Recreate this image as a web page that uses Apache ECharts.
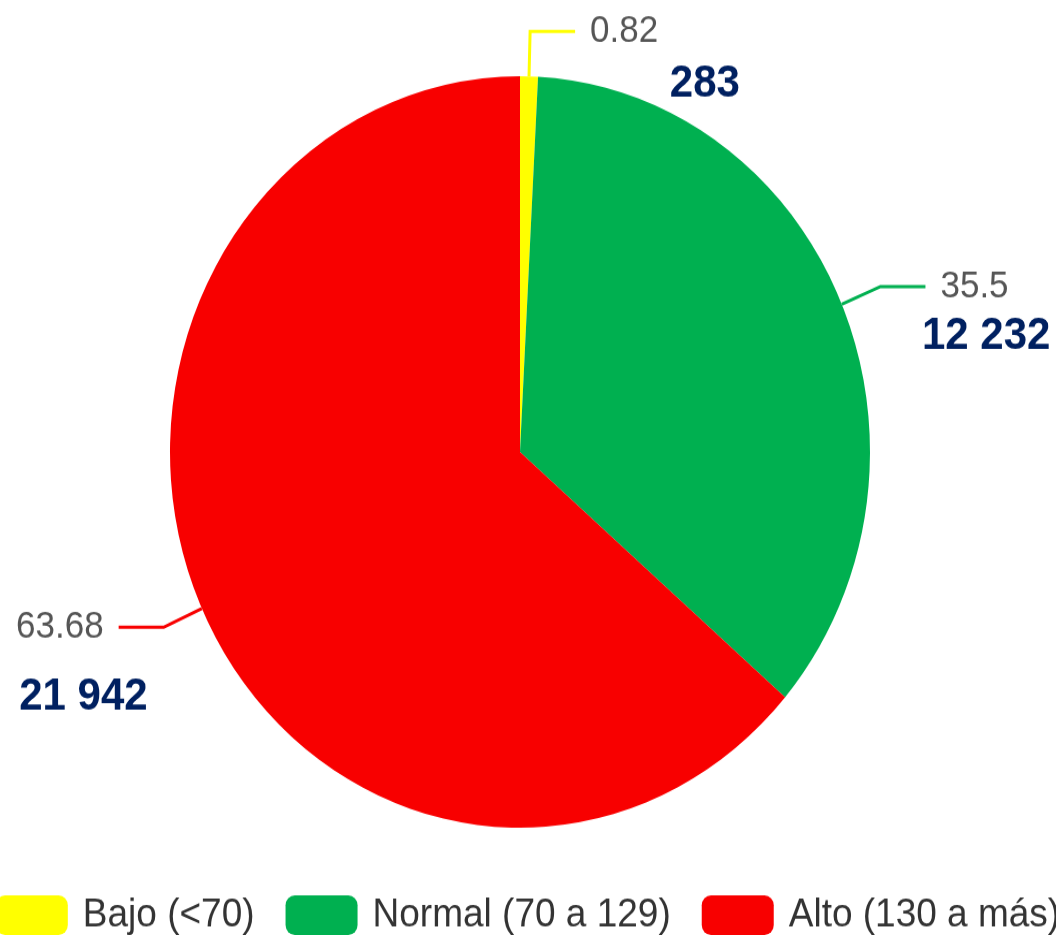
<!DOCTYPE html>
<html>
<head>
<meta charset="utf-8">
<script src="https://cdn.jsdelivr.net/npm/echarts@6/dist/echarts.min.js"></script>
<style>
  html { overflow: hidden; }
  body { margin: 0; padding: 0; background: #fff; width: 1056px; height: 935px; }
  /* the reference is stretched a bit vertically, so draw at 871 high and stretch;
     a little wider than the window so the legend stays on one row */
  #main { width: 1100px; height: 871px; margin-left: -22px; transform: scaleY(1.0735); transform-origin: 0 0; }
</style>
</head>
<body>
<div id="main"></div>
<script>
let categories = ['Bajo (<70)', 'Normal (70 a 129)', 'Alto (130 a más)']
let counts = [283, 12232, 21942]
let colors = ['#ffff00', '#00b050', '#f80000']

// where the bold count label sits, relative to its slice (line hidden)
let countLabelPos = [
  {length: -7, length2: 141, padTop: 0},
  {length: -76, length2: 150, padTop: 0},
  {length: 42, length2: 16, padTop: 130}
]

function fmtCount(v) {
  return String(v).replace(/\B(?=(\d{3})+(?!\d))/g, ' ')
}

let countStyle = {
  color: '#002060',
  fontSize: 42,
  fontWeight: 'bold',
  fontFamily: 'Liberation Sans'
}

let chart = echarts.init(document.getElementById('main'))
let option = {
  backgroundColor: '#fff',
  animation: false,
  legend: {
    data: categories,
    bottom: 0,
    left: 'center',
    padding: 0,
    icon: 'roundRect',
    itemWidth: 72,
    itemHeight: 37,
    itemGap: 31,
    selectedMode: false,
    textStyle: {
      fontSize: 37,
      color: '#333',
      fontFamily: 'Liberation Sans',
      padding: [0, 0, 0, 10]
    }
  },
  series: [
    {
      type: 'pie',
      left: 0,
      top: 0,
      width: 1200,
      height: 871,
      center: [542, 421],
      radius: 350,
      startAngle: 90,
      emphasis: {disabled: true},
      data: categories.map(function (name, i) {
        return {name: name, value: counts[i], itemStyle: {color: colors[i]}}
      }),
      label: {
        formatter: '{d}',
        color: '#555',
        fontSize: 35,
        fontFamily: 'Liberation Sans',
        padding: [0, 0, 8, 0],
        distanceToLabelLine: 15,
        bleedMargin: 0
      },
      labelLine: {
        length: 42,
        length2: 45,
        lineStyle: {width: 3}
      }
    },
    {
      type: 'pie',
      left: 0,
      top: 0,
      width: 1200,
      height: 871,
      center: [542, 421],
      radius: 350,
      startAngle: 90,
      silent: true,
      z: 1,
      itemStyle: {color: 'transparent', borderWidth: 0},
      emphasis: {disabled: true},
      data: categories.map(function (name, i) {
        let p = countLabelPos[i]
        return {
          name: name,
          value: counts[i],
          label: {
            rich: {v: Object.assign({}, countStyle, {padding: [p.padTop, 0, 0, 0]})}
          },
          labelLine: {length: p.length, length2: p.length2}
        }
      }),
      label: {
        formatter: function (p) {
          return '{v|' + fmtCount(p.value) + '}'
        },
        distanceToLabelLine: 0,
        bleedMargin: 0
      },
      labelLine: {show: false}
    }
  ]
}
chart.setOption(option)
</script>
</body>
</html>
